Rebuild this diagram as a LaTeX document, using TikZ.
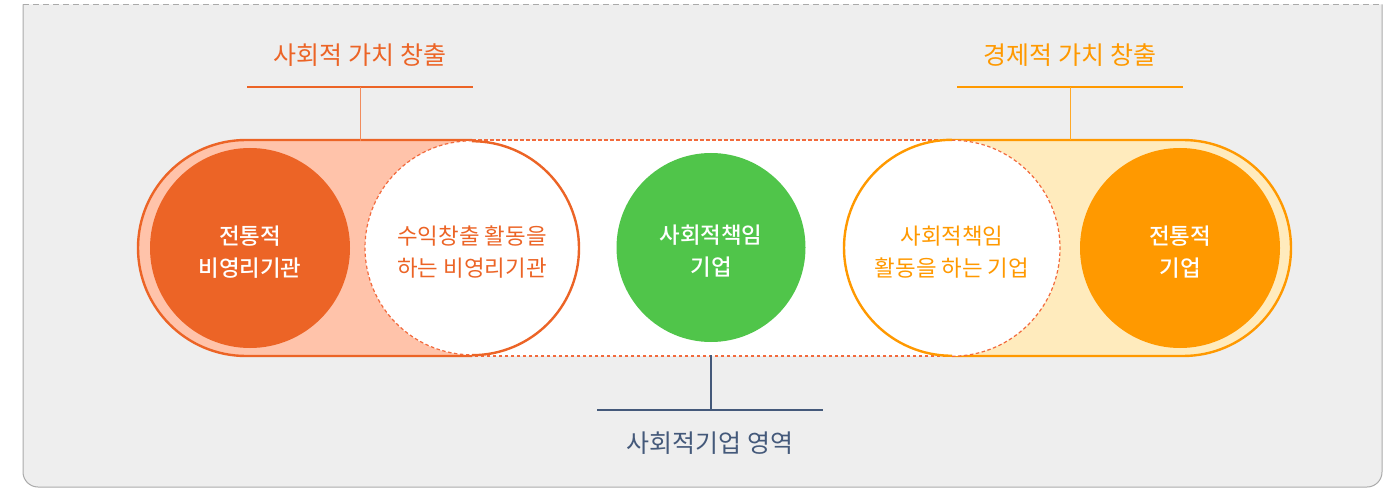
\documentclass[tikz,border=0pt]{standalone}
\usepackage{fontspec}
\setmainfont{Noto Sans CJK KR}[BoldFont={Noto Sans CJK KR Medium}]
\usetikzlibrary{calc}
\definecolor{framebg}{HTML}{EEEEEE}
\definecolor{frameln}{HTML}{AAAAAA}
\definecolor{ored}{HTML}{EC6426}
\definecolor{salmon}{HTML}{FFC3AA}
\definecolor{oran}{HTML}{FF9900}
\definecolor{lyellow}{HTML}{FFEBBD}
\definecolor{grn}{HTML}{50C54A}
\definecolor{slate}{HTML}{44597A}
\definecolor{dred}{HTML}{F26A3C}
\begin{document}
\begin{tikzpicture}[x=1pt,y=1pt,
  ctext/.style={align=center,yshift=-4pt,font=\fontsize{22.4}{32}\selectfont},
  wtext/.style={align=center,yshift=-4pt,text=white,font=\fontsize{22.4}{32}\selectfont\bfseries},
  lab/.style={font=\fontsize{25}{28}\selectfont},
  fillcirc/.style={circle,inner sep=0pt,minimum size=#1},
  bar/.style={line width=2.2pt},
  stem/.style={line width=1pt},
  dashln/.style={line width=1.2pt,dash pattern=on 3.5pt off 2.5pt}]
\useasboundingbox (0,0) rectangle (1392,488);
% frame
\fill[framebg] (23,483.5) -- (23,16) arc[start angle=180,end angle=270,radius=15] -- (1367,1) arc[start angle=270,end angle=360,radius=15] -- (1382,483.5) -- cycle;
\draw[frameln,line width=1pt] (23,483.5) -- (23,16) arc[start angle=180,end angle=270,radius=15] -- (1367,1) arc[start angle=270,end angle=360,radius=15] -- (1382,483.5);
\draw[frameln,line width=1.2pt,dash pattern=on 6pt off 4pt] (23,483.5) -- (1382,483.5);
% middle dashed region
\draw[dred,dashln,fill=white] (472,132) rectangle (952,348);
% left pill
\path[fill=salmon] (472,348) -- (246,348) arc[start angle=90,end angle=270,radius=108] -- (472,132) -- cycle;
\draw[ored,line width=2.4pt] (472,348) -- (246,348) arc[start angle=90,end angle=270,radius=108] -- (472,132);
% right pill
\path[fill=lyellow] (952,348) -- (1183,348) arc[start angle=90,end angle=-90,radius=108] -- (952,132) -- cycle;
\draw[oran,line width=2.4pt] (952,348) -- (1183,348) arc[start angle=90,end angle=-90,radius=108] -- (952,132);
% circles
\node[fillcirc=214pt,fill=white] (c2) at (472,240) {};
\draw[ored,line width=2.4pt] (c2.south) arc[start angle=-90,end angle=90,radius=107];
\draw[dred,dashln] (c2.north) arc[start angle=90,end angle=270,radius=107];
\node[ctext,text=ored] (t2) at (c2) {수익창출 활동을\\하는 비영리기관};
\node[fillcirc=216pt,fill=white] (c4) at (952,240) {};
\draw[oran,line width=2.4pt] (c4.north) arc[start angle=90,end angle=270,radius=108];
\draw[dred,dashln] (c4.south) arc[start angle=-90,end angle=90,radius=108];
\node[ctext,text=oran] (t4) at (c4) {사회적책임\\활동을 하는 기업};
\node[fillcirc=200pt,fill=ored] (c1) at (250,240) {};
\node[wtext] (t1) at (c1) {전통적\\비영리기관};
\node[fillcirc=200pt,fill=oran] (c5) at (1180,240) {};
\node[wtext] (t5) at (c5) {전통적\\기업};
\node[fillcirc=189pt,fill=grn] (c3) at (711,240.5) {};
\node[wtext] (t3) at (c3) {사회적책임\\기업};
% labels and bars
\node[lab,text=ored] (l1) at (360,433) {사회적 가치 창출};
\coordinate (b1l) at (247,401); \coordinate (b1r) at (473,401); \coordinate (b1m) at (360,401);
\draw[ored,bar] (b1l) -- (b1r);
\draw[ored!75,stem] (b1m) -- (b1m |- c2.north);
\node[lab,text=oran] (l2) at (1070,433) {경제적 가치 창출};
\coordinate (b2l) at (957,401); \coordinate (b2r) at (1183,401); \coordinate (b2m) at (1070,401);
\draw[oran,bar] (b2l) -- (b2r);
\draw[oran!85,stem] (b2m) -- (b2m |- c4.north);
\node[lab,text=slate] (l3) at (710,45) {사회적기업 영역};
\coordinate (b3l) at (597,78); \coordinate (b3r) at (823,78); \coordinate (b3m) at (711,78);
\draw[slate,bar] (b3l) -- (b3r);
\draw[slate,line width=1.3pt] (b3m) -- (b3m |- c2.south);
\end{tikzpicture}
\end{document}
